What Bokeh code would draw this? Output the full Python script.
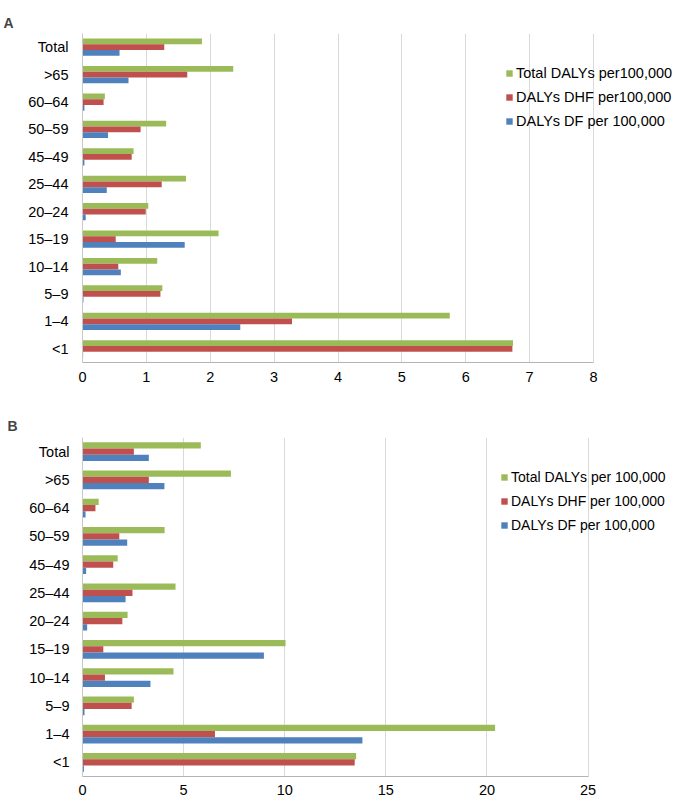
from bokeh.plotting import figure
from bokeh.models import ColumnDataSource, FactorRange, FixedTicker, Legend, LegendItem, Range1d
from bokeh.transform import dodge
from bokeh.layouts import column
from bokeh.embed import file_html
from bokeh.resources import INLINE

categories = ["Total", ">65", "60–64", "50–59", "45–49", "25–44",
              "20–24", "15–19", "10–14", "5–9", "1–4", "<1"]

a_total = [1.87, 2.36, 0.35, 1.31, 0.80, 1.62, 1.03, 2.13, 1.17, 1.25, 5.75, 6.74]
a_dhf = [1.28, 1.64, 0.33, 0.91, 0.77, 1.24, 0.99, 0.52, 0.56, 1.22, 3.28, 6.73]
a_df = [0.58, 0.72, 0.03, 0.40, 0.03, 0.38, 0.05, 1.60, 0.60, 0.015, 2.47, 0.01]

b_total = [5.85, 7.34, 0.80, 4.06, 1.74, 4.60, 2.23, 10.04, 4.50, 2.54, 20.4, 13.53]
b_dhf = [2.54, 3.28, 0.64, 1.82, 1.52, 2.47, 1.97, 1.03, 1.11, 2.43, 6.55, 13.46]
b_df = [3.28, 4.05, 0.15, 2.21, 0.18, 2.13, 0.23, 8.97, 3.36, 0.10, 13.84, 0.07]

a_labels = ["Total DALYs per100,000", "DALYs DHF per100,000", "DALYs DF per 100,000"]
b_labels = ["Total DALYs per 100,000", "DALYs DHF per 100,000", "DALYs DF per 100,000"]

a_ticks = [0, 1, 2, 3, 4, 5, 6, 7, 8]
b_ticks = [0, 5, 10, 15, 20, 25]

colors = ["#9BBB59", "#C0504D", "#4F81BD"]
FONT = "Liberation Sans"
W = 677


def make_panel(letter, total, dhf, df, labels, ticks, height, b_top, b_bottom,
               b_left, axis_right_gap, legend_loc, bar_h, title_offset, title_standoff,
               title_valign, y_standoff, x_standoff, legend_font):
    src = ColumnDataSource(dict(cat=categories, total=total, dhf=dhf, df=df))
    # frame extends to the right edge so the legend is not clipped;
    # axis and grid are bounded to the tick span
    axis_px = W - b_left - axis_right_gap
    x_end = ticks[-1] + axis_right_gap * (ticks[-1] - ticks[0]) / axis_px
    p = figure(width=W, height=height, output_backend="svg", toolbar_location=None,
               y_range=FactorRange(*list(reversed(categories))),
               x_range=Range1d(ticks[0], x_end),
               min_border_top=b_top, min_border_bottom=b_bottom,
               min_border_left=b_left, min_border_right=0,
               title=letter)
    p.title.text_font = FONT
    p.title.text_font_size = "14px"
    p.title.text_font_style = "bold"
    p.title.align = "left"
    p.title.vertical_align = title_valign
    p.title.offset = title_offset
    p.title.standoff = title_standoff
    p.outline_line_color = None
    p.background_fill_color = "white"
    p.border_fill_color = "white"

    renderers = []
    for key, off, col in zip(["total", "dhf", "df"], [bar_h, 0.0, -bar_h], colors):
        r = p.hbar(y=dodge("cat", off, range=p.y_range), right=key, left=0,
                   height=bar_h, source=src, fill_color=col, line_color=None)
        renderers.append(r)

    p.xaxis.ticker = FixedTicker(ticks=ticks)
    p.xaxis.bounds = (ticks[0], ticks[-1])
    p.xgrid.ticker = FixedTicker(ticks=ticks)
    p.xgrid.bounds = (ticks[0], ticks[-1])
    p.xgrid.grid_line_color = "#D9D9D9"
    p.ygrid.grid_line_color = None
    for ax in (p.xaxis, p.yaxis):
        ax.major_tick_line_color = None
        ax.minor_tick_line_color = None
        ax.major_tick_out = 0
        ax.major_tick_in = 0
        ax.minor_tick_out = 0
        ax.major_label_text_font = FONT
        ax.major_label_text_font_size = "14.5px"
        ax.major_label_text_color = "#000000"
    p.xaxis.axis_line_color = "#B3B3B3"
    p.yaxis.axis_line_color = "#C8C8C8"
    p.xaxis.major_label_standoff = x_standoff
    p.yaxis.major_label_standoff = y_standoff

    items = [LegendItem(label=lab, renderers=[r]) for lab, r in zip(labels, renderers)]
    leg = Legend(items=items, location=legend_loc, background_fill_alpha=0,
                 border_line_alpha=0, glyph_width=8, glyph_height=8,
                 label_height=20, spacing=4, padding=10, margin=0,
                 label_standoff=3, label_text_font=FONT, label_text_font_size=legend_font,
                 label_text_color="#000000")
    p.add_layout(leg, "center")
    return p


pa = make_panel("A", a_total, a_dhf, a_df, a_labels, a_ticks, 400, 33, 38, 82, 84,
                (413, 221), 0.21, -79, 2, "top", 14, 9, "14.5px")
pb = make_panel("B", b_total, b_dhf, b_df, b_labels, b_ticks, 400, 37, 24, 78, 90,
                (408, 231), 0.22, -75, 8, "bottom", 13, 8, "14px")

layout = column(pa, pb)
open("out.html", "w").write(file_html(layout, INLINE))
